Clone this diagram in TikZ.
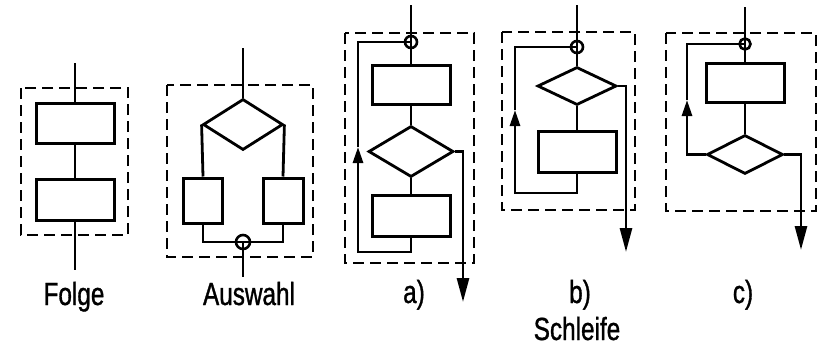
\documentclass[tikz,border=0pt]{standalone}
\usepackage{fontspec}
\newfontfamily\dinfont[FakeStretch=0.76,FakeBold=1]{Liberation Sans}
\usetikzlibrary{arrows.meta,shapes.geometric}

\begin{document}
\begin{tikzpicture}[x=1pt, y=-1pt,
  box/.style={draw, line width=3pt, inner sep=0pt, minimum width=78pt, minimum height=40pt},
  dec/.style={diamond, draw, line width=2.8pt, inner sep=0pt, minimum width=80pt, minimum height=51pt},
  junc/.style={circle, draw, line width=2.6pt, inner sep=0pt, minimum size=12pt},
  flow/.style={line width=2.8pt},
  backarr/.style={-{Triangle[length=16pt,width=10pt]}},
  exitarr/.style={-{Triangle[length=24pt,width=12pt]}},
  frame/.style={draw, dash pattern=on 11pt off 6pt, line width=2.2pt},
  lbl/.style={anchor=base, inner sep=0pt, font=\dinfont\fontsize{32}{36}\selectfont}
]
\useasboundingbox (0,0) rectangle (828,346);

% Folge
\coordinate (f-in) at (75,63);
\node[box] (f1) at (75,123) {};
\node[box, minimum height=41pt] (f2) at (75,199.5) {};
\coordinate (f-out) at (75,270);
\draw[flow] (f-in) -- (f1) -- (f2) -- (f-out);
\draw[frame] (21,88) rectangle (128,235);
\node[lbl] (f-lbl) at (74,305) {Folge};

% Auswahl
\coordinate (w-in) at (243,48);
\node[dec] (w0) at (243,124.5) {};
\node[box, minimum width=39pt, minimum height=45pt] (w1) at (203,200.5) {};
\node[box, minimum width=40pt, minimum height=45pt] (w2) at (283,200.5) {};
\node[junc, minimum size=14pt] (wj) at (243,242) {};
\coordinate (w-out) at (243,277);
\draw[flow] (w-in) -- (w0.north);
\draw[flow] (w0.west) -- (w1.north);
\draw[flow] (w0.east) -- (w2.north);
\draw[flow] (w1.south) |- (wj.center) -| (w2.south);
\draw[flow] (wj.center) -- (w-out);
\draw[frame] (167,85) rectangle (313,257);
\node[lbl] (w-lbl) at (249,305) {Auswahl};

% Schleife a)
\coordinate (a-in) at (411,5);
\node[junc] (aj) at (411,42) {};
\node[box, minimum height=39pt] (a1) at (411,84.5) {};
\node[dec, minimum width=85pt] (a2) at (411,151.5) {};
\node[box, minimum height=41pt] (a3) at (411,215.5) {};
\coordinate (a-back) at (358,252);
\coordinate (a-tip) at (358,147);
\coordinate (a-exit) at (463,302);
\draw[flow] (a-in) -- (aj.center) -- (a1.north);
\draw[flow] (a1) -- (a2) -- (a3);
\draw[flow, backarr] (a3.south) |- (a-back) -- (a-tip);
\draw[flow] (a-tip) |- (aj.center);
\draw[flow, exitarr] (a2.east) -| (a-exit);
\draw[frame] (345,33) rectangle (474,263);
\node[lbl] (a-lbl) at (414,303) {a)};

% Schleife b)
\coordinate (b-in) at (577,5);
\node[junc] (bj) at (577,47) {};
\node[dec, minimum width=79pt, minimum height=38pt] (b1) at (577,86) {};
\node[box, minimum height=41pt] (b2) at (577,151.5) {};
\coordinate (b-back) at (515,193);
\coordinate (b-tip) at (515,110);
\coordinate (b-exit) at (626,252);
\draw[flow] (b-in) -- (bj.center) -- (b1.north);
\draw[flow] (b1) -- (b2);
\draw[flow, backarr] (b2.south) |- (b-back) -- (b-tip);
\draw[flow] (b-tip) |- (bj.center);
\draw[flow, exitarr] (b1.east) -| (b-exit);
\draw[frame] (502,32) rectangle (635,210);
\node[lbl] (b-lbl) at (580,303) {b)};
\node[lbl] (s-lbl) at (577,340) {Schleife};

% Schleife c)
\coordinate (c-in) at (745,7);
\node[junc, minimum size=11pt] (cj) at (745,44) {};
\node[box, minimum height=39pt] (c1) at (745,82.5) {};
\node[dec, minimum width=76pt, minimum height=39pt] (c2) at (745,154.5) {};
\coordinate (c-tip) at (687,100);
\coordinate (c-exit) at (801,250);
\draw[flow] (c-in) -- (cj.center) -- (c1.north);
\draw[flow] (c1) -- (c2);
\draw[flow, backarr] (c2.west) -| (c-tip);
\draw[flow] (c-tip) |- (cj.center);
\draw[flow, exitarr] (c2.east) -| (c-exit);
\draw[frame] (666,33) rectangle (816,211);
\node[lbl] (c-lbl) at (743,303) {c)};
\end{tikzpicture}
\end{document}
